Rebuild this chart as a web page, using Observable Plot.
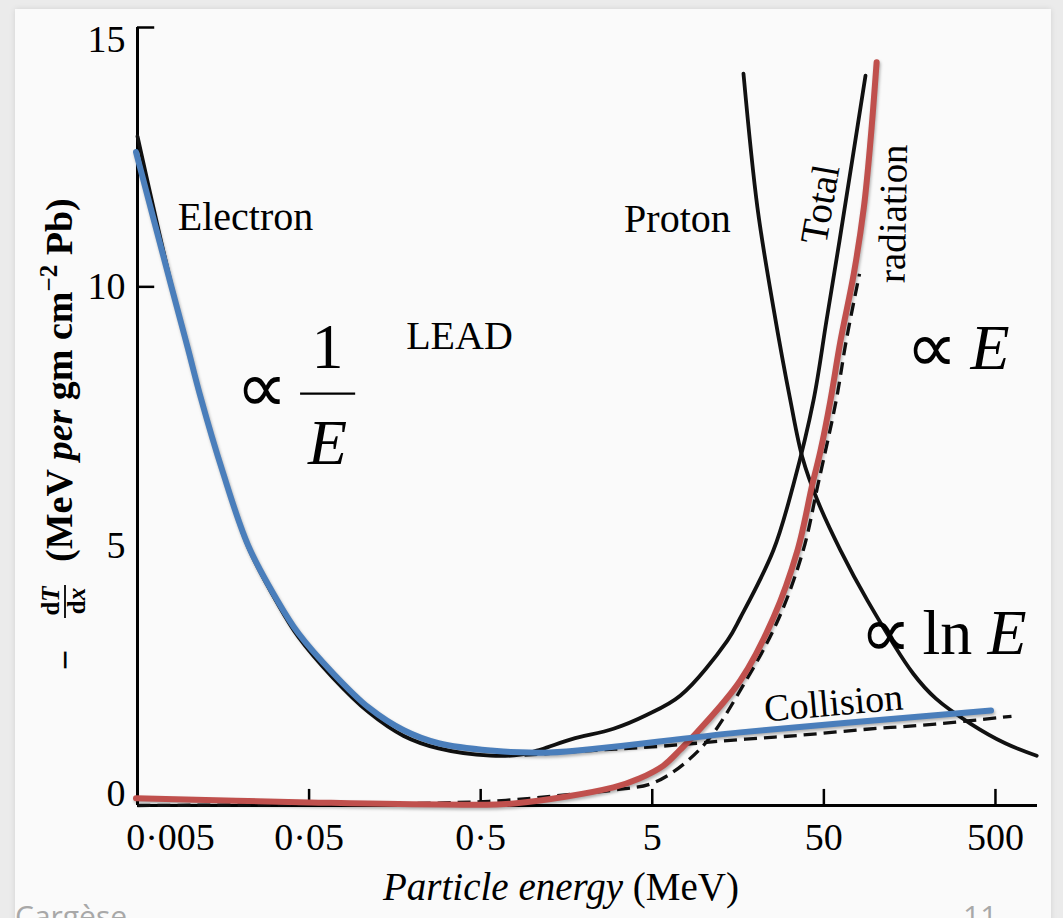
<!DOCTYPE html>
<html><head><meta charset="utf-8">
<script src="https://cdn.jsdelivr.net/npm/d3@7"></script>
<script src="https://cdn.jsdelivr.net/npm/@observablehq/plot@0.6"></script>
<style>
html,body{margin:0;padding:0;width:1063px;height:918px;overflow:hidden;background:#ebebeb;}
#slide{position:absolute;left:15px;top:9px;width:1036px;height:1000px;background:#fafafa;box-shadow:0 0 6px rgba(0,0,0,0.10);}
#chart{position:absolute;left:0;top:0;}
.foot{position:absolute;font-family:"Open Sans","Liberation Sans",sans-serif;font-size:30px;line-height:30px;color:#a8a8a8;}
svg g[stroke="#4a7ebb"], svg g[stroke="#c0504d"]{filter:drop-shadow(1px 2px 1.5px rgba(0,0,0,0.30));}
</style></head><body>
<div id="slide"></div>
<div id="chart"></div>
<div class="foot" style="left:15px;top:901px">Cargèse</div>
<div class="foot" style="left:963px;top:901px">11</div>
<script>
// ---- axis ticks ----
const xTicks = [0.005, 0.05, 0.5, 5, 50, 500];
const xTickLabels = ["0·005", "0·05", "0·5", "5", "50", "500"];
const yTicks = [0, 5, 10, 15];

// ---- electron: collision + total (black solid) ----
const electronE = [0.005, 0.0078, 0.0098, 0.0116, 0.0156, 0.0221, 0.0327, 0.0433, 0.0694, 0.111, 0.178, 0.284, 0.57, 0.85, 1.12, 1.7, 2.97, 4.6, 7.3, 13.7, 16.3, 25.4, 33.3, 43.5, 51.8, 61.7, 73.4, 87.4];
const electronV = [12.9, 10.1, 8.86, 7.92, 6.45, 4.98, 3.9, 3.25, 2.45, 1.8, 1.34, 1.1, 0.96, 0.98, 1.08, 1.28, 1.48, 1.74, 2.12, 3.18, 3.62, 4.92, 6.2, 7.81, 9.35, 10.89, 12.47, 14.07];

// ---- electron collision loss (black dashed) ----
const collisionE = [0.9, 2.2, 5, 17.5, 35, 88.6, 223, 620];
const collisionV = [0.97, 1.06, 1.13, 1.28, 1.35, 1.47, 1.57, 1.72];

// ---- electron radiation loss (black dashed) ----
const radiationE = [0.005, 0.05, 0.3, 0.7, 1.5, 3, 5.2, 9.7, 17.6, 27.4, 37.9, 46.3, 59, 67.5, 80.7];
const radiationV = [0.0, 0.02, 0.05, 0.1, 0.2, 0.3, 0.45, 1.12, 2.41, 3.62, 4.92, 6.2, 7.81, 8.96, 10.25];

// ---- proton (black solid) ----
const protonE = [17.0, 20.5, 25.4, 31.9, 37.5, 45.9, 62.5, 89.8, 166, 225, 357, 570, 870];
const protonV = [14.11, 11.53, 9.6, 7.81, 6.71, 5.88, 4.92, 3.95, 2.54, 2.06, 1.58, 1.2, 0.96];

// ---- overlay: ∝ 1/E then ∝ ln E (blue) ----
const fitInvE = [0.0049, 0.0078, 0.0098, 0.0116, 0.0156, 0.0221, 0.0327, 0.0433, 0.0694, 0.111, 0.178, 0.284, 0.57, 1.26, 16.3, 471];
const fitInvV = [12.6, 10.06, 8.83, 7.9, 6.46, 5.01, 3.95, 3.32, 2.54, 1.89, 1.45, 1.2, 1.06, 1.02, 1.41, 1.83];

// ---- overlay: ∝ E (red) ----
const fitLinE = [0.0049, 0.05, 0.3, 0.78, 2.97, 4.2, 5.81, 7.3, 9.17, 16.3, 25.4, 35.1, 42.9, 47.8, 54.6, 62.5, 74.7, 85.5, 93.5, 101.5];
const fitLinV = [0.14, 0.06, 0.02, 0.04, 0.35, 0.52, 0.77, 1.08, 1.42, 2.41, 3.62, 4.92, 6.2, 6.84, 7.81, 8.96, 10.25, 11.53, 12.82, 14.33];

// ---- curve labels ----
const labelNames = ["Electron", "Proton", "LEAD"];
const labelE = [0.0213, 7.01, 0.376];
const labelV = [11.09, 11.05, 8.81];

const serif = '"Liberation Serif","Times New Roman",serif';
const pts = (E, V) => E.map((e, i) => ({E: e, V: V[i]}));
const fmtX = d => xTickLabels[xTicks.indexOf(d)];
const axisTextY = {tickSize: 0, tickPadding: 12, fontSize: 38, label: null, fontFamily: serif, tickFormat: d => `${d}`};
const lineOpts = (stroke, w, extra = {}) => ({x: "E", y: "V", stroke, strokeWidth: w, curve: "catmull-rom", strokeLinecap: "round", strokeLinejoin: "round", ...extra});
const big = {lineAnchor: "bottom", fontFamily: serif, text: d => d};

const plot = Plot.plot({
  width: 1063, height: 918,
  marginLeft: 137, marginRight: 26, marginTop: 27, marginBottom: 113,
  x: {type: "log", domain: [0.005, 879], label: null, axis: null},
  y: {domain: [0, 15], label: null},
  style: {background: "transparent", fontFamily: serif, color: "#000", overflow: "visible"},
  marks: [
    // axes lines and inward ticks
    Plot.ruleX([xTicks[0]], {y1: 0, y2: 15, strokeWidth: 3}),
    Plot.ruleY([yTicks[0]], {x1: 0.005, x2: 879, strokeWidth: 3}),
    Plot.ruleX(xTicks.slice(1), {y1: 0, y2: 0.31, strokeWidth: 2.5}),
    Plot.ruleY(yTicks.slice(2), {x1: 0.005, x2: 0.0063, strokeWidth: 2.5}),
    // x tick labels (first one is set off to the right, as in the figure)
    Plot.text(xTicks.slice(0, 1), {x: d => d, y: yTicks[0], text: fmtX, lineAnchor: "top", dy: 18, dx: 33, fontSize: 38, fontFamily: serif}),
    Plot.text(xTicks.slice(1), {x: d => d, y: yTicks[0], text: fmtX, lineAnchor: "top", dy: 18, fontSize: 38, fontFamily: serif}),
    Plot.axisY(yTicks.slice(1, 3), axisTextY),
    Plot.axisY(yTicks.slice(3), {...axisTextY, dy: 12}),
    Plot.axisY(yTicks.slice(0, 1), {...axisTextY, dy: -12}),

    // original book curves
    Plot.line(pts(collisionE, collisionV), lineOpts("#111", 3.3, {strokeDasharray: "13,7", strokeLinecap: "butt"})),
    Plot.line(pts(radiationE, radiationV), lineOpts("#111", 3.3, {strokeDasharray: "13,7", strokeLinecap: "butt"})),
    Plot.line(pts(electronE, electronV), lineOpts("#111", 3.8)),
    Plot.line(pts(protonE, protonV), lineOpts("#111", 3.8)),

    // slide overlays
    Plot.line(pts(fitLinE, fitLinV), lineOpts("#c0504d", 6)),
    Plot.line(pts(fitInvE, fitInvV), lineOpts("#4a7ebb", 6)),

    // curve labels from the figure
    Plot.text(labelNames, {x: (d, i) => labelE[i], y: (d, i) => labelV[i], text: d => d, lineAnchor: "bottom", fontSize: 40, fontFamily: serif}),
    Plot.text(["Total"], {x: () => 47.8, y: () => 11.59, text: d => d, rotate: -80, fontSize: 39, fontFamily: serif}),
    Plot.text(["radiation"], {x: () => 127, y: () => 11.41, text: d => d, rotate: -89, fontSize: 39, fontFamily: serif}),
    Plot.text(["Collision"], {x: () => 56.9, y: () => 1.97, text: d => d, rotate: -5, fontSize: 38, fontFamily: serif}),

    // proportionality annotations
    Plot.text(["∝"], {...big, x: () => 0.0188, y: () => 7.58, textAnchor: "start", fontSize: 72}),
    Plot.text(["1"], {...big, x: () => 0.064, y: () => 8.44, fontSize: 64}),
    Plot.ruleY([7.94], {x1: 0.0446, x2: 0.0934, strokeWidth: 2.2}),
    Plot.text(["E"], {...big, x: () => 0.064, y: () => 6.59, fontSize: 64, fontStyle: "italic"}),
    Plot.text(["∝"], {...big, x: () => 150, y: () => 8.36, textAnchor: "start", fontSize: 72}),
    Plot.text(["E"], {...big, x: () => 357.6, y: () => 8.42, textAnchor: "start", fontSize: 64, fontStyle: "italic"}),
    Plot.text(["∝"], {...big, x: () => 81, y: () => 2.87, textAnchor: "start", fontSize: 72}),
    Plot.text(["ln"], {...big, x: () => 188, y: () => 2.93, textAnchor: "start", fontSize: 64}),
    Plot.text(["E"], {...big, x: () => 449, y: () => 2.93, textAnchor: "start", fontSize: 64, fontStyle: "italic"})
  ]
});

document.getElementById("chart").appendChild(plot);
const svg = d3.select(plot);

// x-axis title
const xt = svg.append("text").attr("x", 561).attr("y", 900).attr("text-anchor", "middle")
  .attr("font-family", serif).attr("font-size", 39).attr("fill", "#000");
xt.append("tspan").attr("font-style", "italic").text("Particle energy ");
xt.append("tspan").text("(MeV)");

// y-axis title (rotated)
const g = svg.append("g").attr("transform", "rotate(-90)").attr("font-family", serif).attr("fill", "#000");
const yt = g.append("text").attr("x", -562).attr("y", 72).attr("text-anchor", "start").attr("font-size", 38).attr("font-weight", "bold");
yt.append("tspan").text("(MeV ");
yt.append("tspan").attr("font-style", "italic").text("per");
yt.append("tspan").text(" gm cm");
yt.append("tspan").attr("font-size", 25).attr("dy", -15).text("−2");
yt.append("tspan").attr("dy", 15).text(" Pb)");
const num = g.append("text").attr("x", -601).attr("y", 59).attr("text-anchor", "middle").attr("font-size", 25).attr("font-weight", "bold");
num.append("tspan").text("d");
num.append("tspan").attr("font-style", "italic").text("T");
g.append("line").attr("x1", -585).attr("x2", -618).attr("y1", 65).attr("y2", 65).attr("stroke", "#000").attr("stroke-width", 1.8);
const den = g.append("text").attr("x", -601).attr("y", 85).attr("text-anchor", "middle").attr("font-size", 25).attr("font-weight", "bold");
den.append("tspan").text("d");
den.append("tspan").attr("font-style", "italic").text("x");
g.append("text").attr("x", -660).attr("y", 77).attr("text-anchor", "middle").attr("font-size", 36).attr("font-weight", "bold").text("−");
</script>
</body></html>
